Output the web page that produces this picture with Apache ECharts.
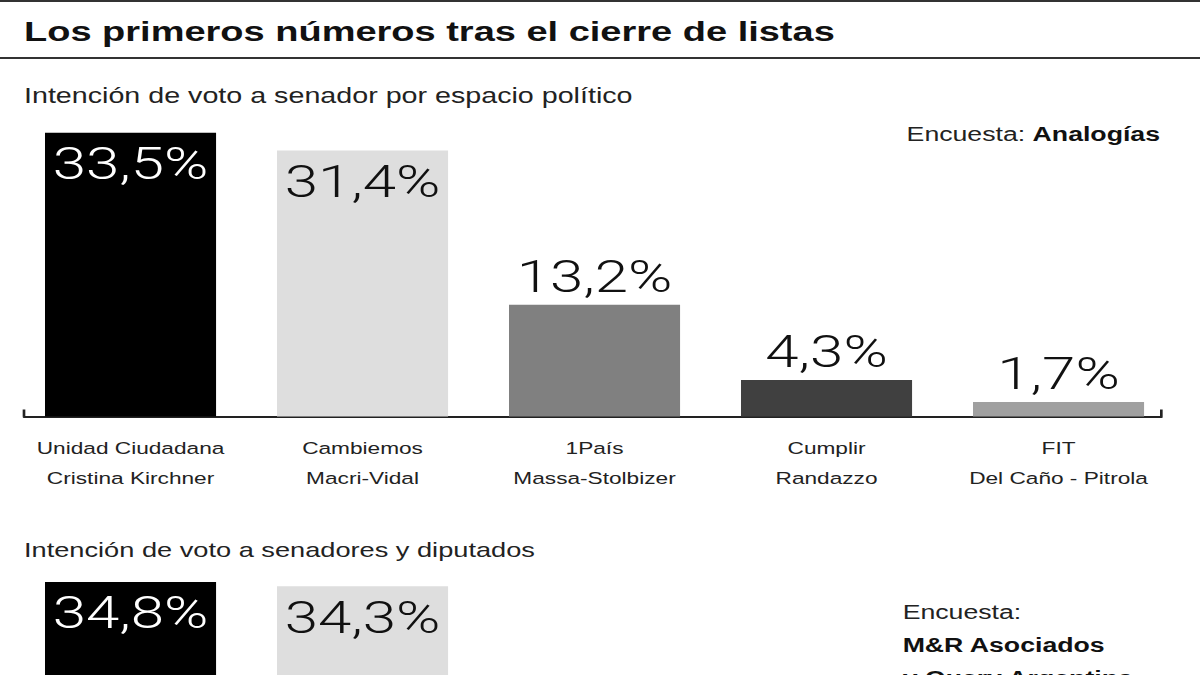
<!DOCTYPE html>
<html>
<head>
<meta charset="utf-8">
<script src="https://cdn.jsdelivr.net/npm/echarts@6/dist/echarts.min.js"></script>
<style>
  html, body { margin: 0; padding: 0; background: #fff; overflow: hidden; }
  /* la imagen original viene estirada en horizontal */
  #main { width: 900px; height: 675px; transform: scaleX(1.33333); transform-origin: 0 0; }
</style>
</head>
<body>
<div id="main"></div>
<script>
// datos
const partidos = [
  'Unidad Ciudadana\nCristina Kirchner',
  'Cambiemos\nMacri-Vidal',
  '1País\nMassa-Stolbizer',
  'Cumplir\nRandazzo',
  'FIT\nDel Caño - Pitrola'
];
const senadorValores = [33.5, 31.4, 13.2, 4.3, 1.7];      // Analogías
const senDipValores = [34.8, 34.3];                        // M&R Asociados y Query Argentina

const colores = ['#000000', '#dedede', '#808080', '#404040', '#a0a0a0'];
const textoSobre = ['#ffffff', '#111111', '#111111', '#111111', '#111111'];

const fmt = v => v.toFixed(1).replace('.', ',') + '%';

function barras(valores) {
  return valores.map((v, i) => ({
    value: v,
    itemStyle: { color: colores[i] },
    label: v > 20
      ? { position: 'insideTop', distance: 8, color: textoSobre[i] }
      : { position: 'top', distance: 5, color: '#111' }
  }));
}

const labelBase = {
  show: true,
  formatter: p => fmt(p.value),
  fontFamily: 'Roboto, "Liberation Sans", sans-serif',
  fontWeight: 300,
  fontSize: 45,
  lineHeight: 46
};

const chart = echarts.init(document.getElementById('main'), null, { renderer: 'svg' });

const gLeft = 10.9, gRight = 19.1, gH = 338.8;

chart.setOption({
  backgroundColor: '#fff',
  animation: false,
  grid: [
    { left: gLeft, right: gRight, top: 77.7, height: gH, outerBoundsMode: 'none' },
    { left: 18, right: 28.9, top: 77.7, height: gH, outerBoundsMode: 'none' },
    // el segundo gráfico sigue por debajo del borde de la imagen
    { left: gLeft, right: gRight, top: 538, height: gH, outerBoundsMode: 'none' }
  ],
  xAxis: [
    {
      gridIndex: 0, type: 'category', data: partidos,
      axisLine: { show: false }, axisTick: { show: false },
      axisLabel: {
        interval: 0, margin: 17, color: '#222', fontSize: 17, lineHeight: 30,
        fontFamily: '"Liberation Sans", Arial, sans-serif'
      }
    },
    {
      gridIndex: 1, type: 'value', min: 0, max: 1, interval: 1,
      axisLine: { show: true, lineStyle: { color: '#222', width: 2 } },
      axisTick: { show: true, inside: true, length: 7, lineStyle: { color: '#222', width: 2 } },
      axisLabel: { show: false }, splitLine: { show: false }
    },
    {
      gridIndex: 2, type: 'category', data: partidos,
      axisLine: { show: false }, axisTick: { show: false }, axisLabel: { show: false }
    }
  ],
  yAxis: [
    { gridIndex: 0, type: 'value', min: 0, max: 40, show: false },
    { gridIndex: 1, type: 'value', min: 0, max: 40, show: false },
    { gridIndex: 2, type: 'value', min: 0, max: 40, show: false }
  ],
  series: [
    {
      type: 'bar', xAxisIndex: 0, yAxisIndex: 0, barWidth: 128.3,
      data: barras(senadorValores), label: labelBase
    },
    { type: 'line', xAxisIndex: 1, yAxisIndex: 1, data: [], silent: true },
    {
      type: 'bar', xAxisIndex: 2, yAxisIndex: 2, barWidth: 128.3,
      data: barras(senDipValores), label: labelBase
    }
  ],
  graphic: [
    { type: 'rect', shape: { x: 0, y: 0, width: 900, height: 2 }, style: { fill: '#333' } },
    { type: 'rect', shape: { x: 0, y: 57, width: 900, height: 2 }, style: { fill: '#333' } },
    {
      type: 'text', x: 18, y: 31,
      style: {
        text: 'Los primeros números tras el cierre de listas',
        fill: '#111', font: 'bold 28.5px "Liberation Sans", Arial, sans-serif',
        verticalAlign: 'middle'
      }
    },
    {
      type: 'text', x: 18, y: 95,
      style: {
        text: 'Intención de voto a senador por espacio político',
        fill: '#222', font: '21.5px "Liberation Sans", Arial, sans-serif',
        verticalAlign: 'middle'
      }
    },
    {
      type: 'text', x: 18, y: 550,
      style: {
        text: 'Intención de voto a senadores y diputados',
        fill: '#222', font: '20.4px "Liberation Sans", Arial, sans-serif',
        verticalAlign: 'middle'
      }
    },
    {
      type: 'text', x: 870, y: 134,
      style: {
        text: '{n|Encuesta: }{b|Analogías}',
        align: 'right', verticalAlign: 'middle',
        rich: {
          n: { fontSize: 20, fontFamily: '"Liberation Sans", Arial', fill: '#222' },
          b: { fontSize: 20, fontFamily: '"Liberation Sans", Arial', fontWeight: 'bold', fill: '#111' }
        }
      }
    },
    {
      type: 'text', x: 677, y: 596,
      style: {
        text: '{n|Encuesta:}\n{b|M&R Asociados}\n{b|y Query Argentina}',
        align: 'left', verticalAlign: 'top',
        rich: {
          n: { fontSize: 20, lineHeight: 33, fontFamily: '"Liberation Sans", Arial', fill: '#222' },
          b: { fontSize: 20, lineHeight: 33, fontFamily: '"Liberation Sans", Arial', fontWeight: 'bold', fill: '#111' }
        }
      }
    }
  ]
});
</script>
</body>
</html>
